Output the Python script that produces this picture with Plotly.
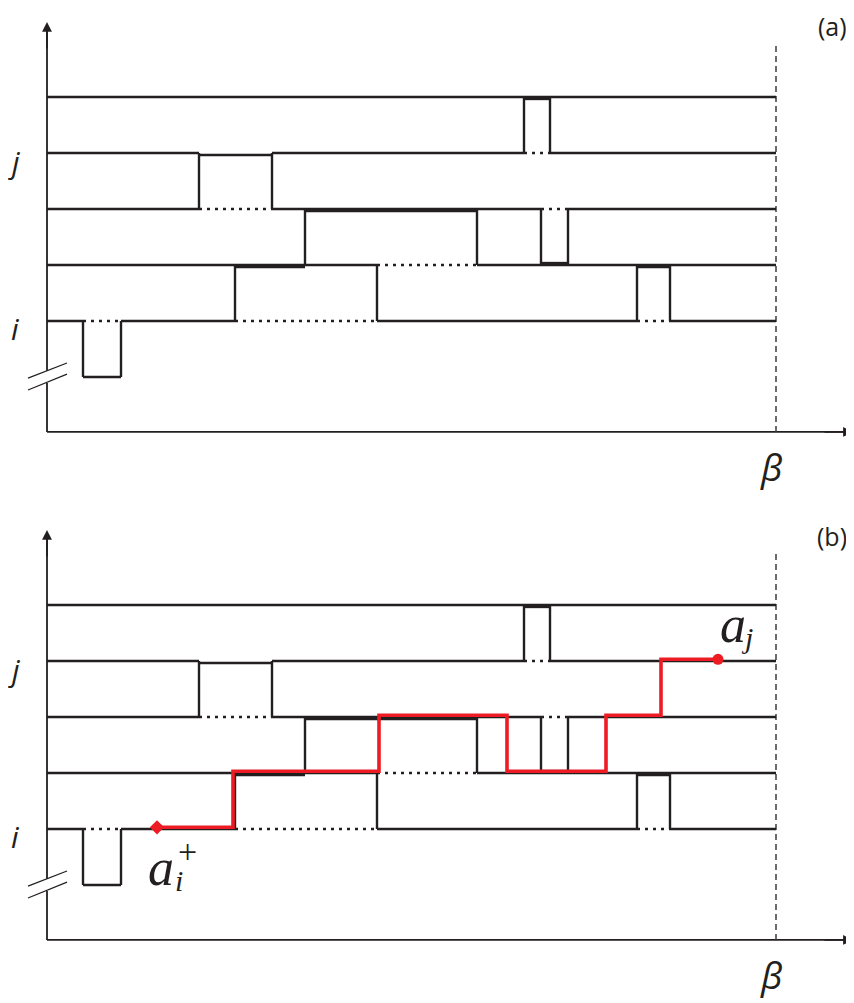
import plotly.graph_objects as go

# ---------------- data ----------------
BETA = 729            # imaginary-time extent (tau units)
TAU_AXIS_END = 806

# solid (occupied) worldline pieces: level, start, end
solid_level = [5, 4, 4, 4, 3, 3, 3, 2, 2, 1, 1, 1, 1, 0]
solid_start = [0, 0, 225, 503, 0, 225, 521, 0, 430, 0, 74, 330, 623, 36]
solid_end   = [729, 152, 477, 729, 152, 494, 729, 330, 729, 36, 188, 590, 729, 74]

# dotted (vacated) pieces
dotted_level = [4, 3, 3, 2, 1, 1, 1]
dotted_start = [477, 152, 494, 330, 36, 188, 590]
dotted_end   = [503, 225, 521, 430, 74, 330, 623]

# doubly occupied pieces (side: -1 below the line, +1 above)
double_level = [5, 4, 3, 2, 2, 2]
double_start = [477, 152, 258, 188, 494, 590]
double_end   = [503, 225, 430, 258, 521, 623]
double_side  = [-1, -1, -1, -1, 1, -1]

# kinks (vertical hops) between level k and k+1
kink_tau   = [36, 74, 188, 330, 590, 623, 258, 430, 494, 521, 152, 225, 477, 503]
kink_lower = [0, 0, 1, 1, 1, 1, 2, 2, 2, 2, 3, 3, 4, 4]

# worm path of panel (b)
worm_tau   = [110, 186, 332, 460, 559, 614, 671]
worm_level = [1, 2, 3, 2, 3, 4, 4]

# ---------------- style ----------------
PAGE_MARGIN = 8           # default body margin of the html page
W, H = 854 - PAGE_MARGIN, 1003 - PAGE_MARGIN
BLACK = "#231f20"
RED = "#ed1c24"
LW = 2.4
X_AXIS_LEVEL = -0.98
Y_AXIS_TOP = 6.34
DOUBLE_OFF = 0.035
WORM_LIFT = 0.03
Y_TOP_A = (377 - PAGE_MARGIN) / 56
Y_TOP_B = (885 - PAGE_MARGIN) / 56

fig = go.Figure()


def segs(levels, starts, ends, off=None):
    xs, ys = [], []
    for k, (lv, s, e) in enumerate(zip(levels, starts, ends)):
        d = 0 if off is None else off[k] * DOUBLE_OFF
        xs += [s, e, None]
        ys += [lv + d, lv + d, None]
    return xs, ys


for yref in ["y", "y2"]:
    # axes
    fig.add_trace(go.Scatter(x=[0, TAU_AXIS_END - 8], y=[X_AXIS_LEVEL, X_AXIS_LEVEL], mode="lines",
                             line=dict(color=BLACK, width=1.8), yaxis=yref, hoverinfo="skip"))
    fig.add_trace(go.Scatter(x=[0, 0, None, 0, 0], y=[X_AXIS_LEVEL, -0.105, None, 0.11, Y_AXIS_TOP - 0.1],
                             mode="lines", line=dict(color=BLACK, width=1.8), yaxis=yref, hoverinfo="skip"))
    # axis break marks
    fig.add_trace(go.Scatter(x=[-19, 20, None, -19, 20], y=[-0.02, 0.25, None, -0.232, 0.05],
                             mode="lines", line=dict(color=BLACK, width=1.3), yaxis=yref, hoverinfo="skip"))
    # beta dashed line
    fig.add_trace(go.Scatter(x=[BETA, BETA], y=[X_AXIS_LEVEL, 5.98], mode="lines",
                             line=dict(color="#3c3c3c", width=1.5, dash="6px,4px"), yaxis=yref, hoverinfo="skip"))
    # dotted vacated segments
    xs, ys = segs(dotted_level, dotted_start, dotted_end)
    fig.add_trace(go.Scatter(x=xs, y=ys, mode="lines", line=dict(color=BLACK, width=2.4, dash="3px,5px"),
                             yaxis=yref, hoverinfo="skip"))
    # solid worldlines
    xs, ys = segs(solid_level, solid_start, solid_end)
    for t, lo in zip(kink_tau, kink_lower):
        xs += [t, t, None]
        ys += [lo, lo + 1, None]
    fig.add_trace(go.Scatter(x=xs, y=ys, mode="lines", line=dict(color=BLACK, width=LW),
                             yaxis=yref, hoverinfo="skip"))
    # double occupancy
    xs, ys = segs(double_level, double_start, double_end, double_side)
    fig.add_trace(go.Scatter(x=xs, y=ys, mode="lines", line=dict(color=BLACK, width=LW),
                             yaxis=yref, hoverinfo="skip"))

# worm in panel (b)
worm_y = [lv + WORM_LIFT for lv in worm_level]
fig.add_trace(go.Scatter(x=worm_tau, y=worm_y, mode="lines", line=dict(color=RED, width=3.6, shape="hv"),
                         yaxis="y2", hoverinfo="skip"))
fig.add_trace(go.Scatter(x=[worm_tau[0]], y=[worm_y[0]], mode="markers",
                         marker=dict(symbol="diamond", size=11, color=RED), yaxis="y2", hoverinfo="skip"))
fig.add_trace(go.Scatter(x=[worm_tau[-1]], y=[worm_y[-1]], mode="markers",
                         marker=dict(symbol="circle", size=11, color=RED), yaxis="y2", hoverinfo="skip"))

ann = []
SANS = "Open Sans"
SERIF = "Liberation Serif"
for yref, tag, tag_y in [("y", "(a)", Y_TOP_A), ("y2", "(b)", 6.55)]:
    # arrowheads
    ann.append(dict(x=0, y=Y_AXIS_TOP, ax=0, ay=Y_AXIS_TOP - 0.5, xref="x", yref=yref, axref="x", ayref=yref,
                    showarrow=True, arrowhead=2, arrowsize=1.1, arrowwidth=1.8, arrowcolor=BLACK, text=""))
    ann.append(dict(x=TAU_AXIS_END, y=X_AXIS_LEVEL, ax=TAU_AXIS_END - 30, ay=X_AXIS_LEVEL, xref="x", yref=yref,
                    axref="x", ayref=yref, showarrow=True, arrowhead=2, arrowsize=1.1, arrowwidth=1.8,
                    arrowcolor=BLACK, text=""))
    ann.append(dict(x=-33, y=3.85, xref="x", yref=yref, text="<i>j</i>", showarrow=False,
                    font=dict(family=SANS, size=30, color=BLACK)))
    ann.append(dict(x=-32, y=0.87, xref="x", yref=yref, text="<i>i</i>", showarrow=False,
                    font=dict(family=SANS, size=30, color=BLACK)))
    ann.append(dict(x=785, y=tag_y, xref="x", yref=yref, text=tag, showarrow=False, yanchor="top",
                    borderpad=0, font=dict(family=SANS, size=25, color=BLACK)))
    ann.append(dict(x=724, y=-1.60, xref="x", yref=yref, text="<i>β</i>", showarrow=False,
                    font=dict(family=SANS, size=37, color=BLACK)))

# operator labels in panel (b)
ann.append(dict(x=114, y=0.31, xref="x", yref="y2", text="<i>a</i>", showarrow=False,
                font=dict(family=SERIF, size=52, color=BLACK)))
ann.append(dict(x=132, y=0.08, xref="x", yref="y2", text="<i>i</i>", showarrow=False,
                font=dict(family=SERIF, size=30, color=BLACK)))
ann.append(dict(x=140, y=0.6, xref="x", yref="y2", text="+", showarrow=False,
                font=dict(family=SERIF, size=34, color=BLACK)))
ann.append(dict(x=686, y=4.65, xref="x", yref="y2", text="<i>a</i>", showarrow=False,
                font=dict(family=SERIF, size=52, color=BLACK)))
ann.append(dict(x=700, y=4.42, xref="x", yref="y2", text="<i>j</i>", showarrow=False,
                font=dict(family=SERIF, size=30, color=BLACK)))

fig.update_layout(
    width=W, height=H, autosize=False,
    margin=dict(l=0, r=0, t=0, b=0),
    paper_bgcolor="white", plot_bgcolor="white",
    showlegend=False,
    xaxis=dict(range=[PAGE_MARGIN - 47, 854 - 47], visible=False, fixedrange=True),
    yaxis=dict(range=[(377 - 1003) / 56, Y_TOP_A], visible=False, fixedrange=True),
    yaxis2=dict(range=[(885 - 1003) / 56, Y_TOP_B], visible=False, fixedrange=True, overlaying="y"),
    annotations=ann,
)

fig.write_html("out.html")
